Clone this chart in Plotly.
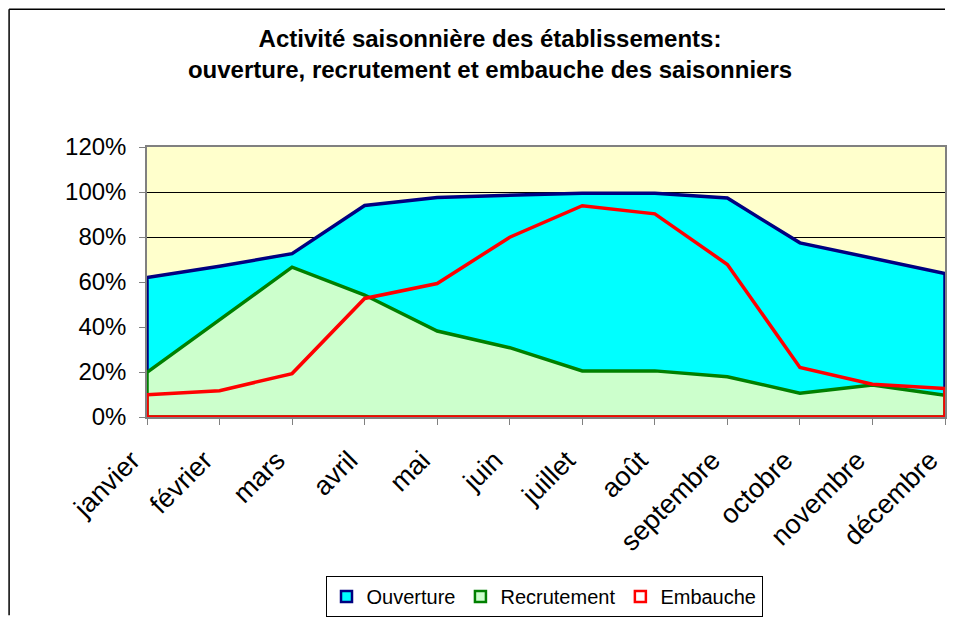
import plotly.graph_objects as go

months = ["janvier", "février", "mars", "avril", "mai", "juin", "juillet",
          "août", "septembre", "octobre", "novembre", "décembre"]
ouverture = [0.620, 0.670, 0.726, 0.940, 0.976, 0.985, 0.995, 0.995, 0.973, 0.774, 0.707, 0.638]
recrutement = [0.198, 0.434, 0.666, 0.542, 0.382, 0.308, 0.205, 0.205, 0.179, 0.106, 0.142, 0.097]
embauche = [0.099, 0.117, 0.193, 0.527, 0.593, 0.799, 0.939, 0.903, 0.678, 0.220, 0.146, 0.127]

series = [
    ("Ouverture", ouverture, "#000080", "#00FFFF"),
    ("Recrutement", recrutement, "#008000", "#CCFFCC"),
    ("Embauche", embauche, "#FF0000", "rgba(255,255,255,0)"),
]

FONT = "Arial, Liberation Sans, sans-serif"
fig = go.Figure()

for name, vals, lc, fc in series:
    xs = months + [months[-1], months[0], months[0]]
    ys = list(vals) + [0, 0, vals[0]]
    fig.add_trace(go.Scatter(
        x=xs, y=ys, mode="lines", fill="toself", fillcolor=fc,
        line=dict(color=lc, width=3.5), name=name, showlegend=False,
        hoverinfo="skip"))

for name, vals, lc, fc in series:
    fig.add_trace(go.Scatter(
        x=[None], y=[None], mode="markers", name=name,
        marker=dict(symbol="square", size=11,
                    color=fc if fc.startswith("#") else "#FFFFFF",
                    line=dict(color=lc, width=2.5))))

# page body adds an 8px offset; figure sized to fit the window without overflow
OFF = 8
W, H = 955 - 2 * OFF, 625 - 2 * OFF
L, R, T = 147 - OFF, 0, 147 - OFF
B = H - (418 - OFF)
pw, ph = W - L - R, H - T - B

def px_x(p):
    return (p - OFF - L) / pw

def px_y(p):
    return (H - B - (p - OFF)) / ph

fig.update_layout(
    width=W, height=H,
    margin=dict(l=L, r=R, t=T, b=B),
    paper_bgcolor="white",
    plot_bgcolor="#FFFFCC",
    font=dict(family=FONT, color="black"),
    title=dict(
        text="<b>Activité saisonnière des établissements:<br>ouverture, recrutement et embauche des saisonniers</b>",
        x=(490 - OFF) / W, xanchor="center", xref="container",
        y=1 - 39 / H, yanchor="top",
        font=dict(size=24, family=FONT, color="black")),
    xaxis=dict(
        type="category", range=[0, 11],
        showgrid=False, showline=True, linecolor="#808080", linewidth=1.5,
        mirror=True, ticks="outside", ticklen=6, tickcolor="#808080",
        tickangle=-45, tickfont=dict(size=27, family=FONT, color="black"),
        ticklabelstandoff=9, ticklabelshift=-15,
        zeroline=False),
    yaxis=dict(
        range=[0, 1.2], dtick=0.2, tickformat=".0%",
        showgrid=True, gridcolor="#000000", gridwidth=1,
        showline=True, linecolor="#808080", linewidth=1.5, mirror=True,
        ticks="outside", ticklen=6, tickcolor="#808080",
        tickfont=dict(size=24, family=FONT, color="black"),
        ticklabelstandoff=8, zeroline=False),
    legend=dict(
        orientation="h", x=px_x(545), xanchor="center",
        y=px_y(578), yanchor="top",
        bordercolor="black", borderwidth=1, bgcolor="white",
        font=dict(size=20, family=FONT, color="black"),
        itemwidth=30, tracegroupgap=0),
    shapes=[
        dict(type="line", xref="paper", yref="paper",
             x0=(0.75 - L) / pw, x1=(0.75 - L) / pw,
             y0=-B / ph, y1=(H - B - 0.75) / ph,
             line=dict(color="black", width=1.5), layer="below"),
        dict(type="line", xref="paper", yref="paper",
             x0=(0.75 - L) / pw, x1=(W - L) / pw,
             y0=(H - B - 0.75) / ph, y1=(H - B - 0.75) / ph,
             line=dict(color="black", width=1.5), layer="below"),
    ],
    showlegend=True,
)

fig.write_html("out.html")
